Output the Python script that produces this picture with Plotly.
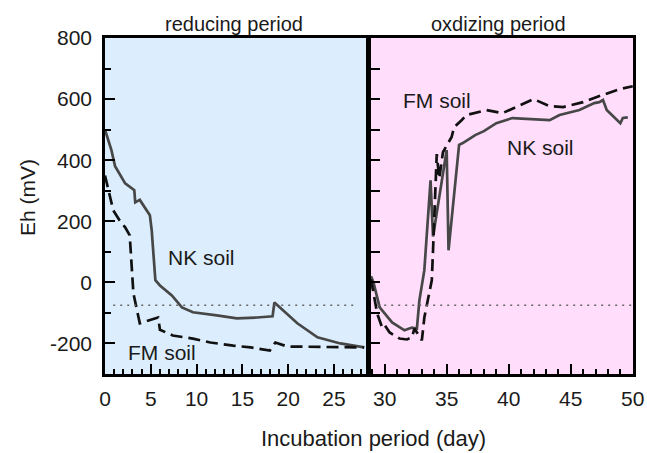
import plotly.graph_objects as go

# ---------------- data ----------------
nk_red_day = [0, 0.7, 1.1, 2.2, 3.2, 3.3, 3.8, 4.9, 5.1, 5.5, 6.0, 7.3, 8.4, 9.6,
              12.2, 14.4, 16.6, 18.3, 18.5, 21.0, 23.2, 25.7, 28.3]
nk_red_eh = [500, 433, 380, 324, 302, 262, 270, 220, 170, 7, -10, -43, -82, -98,
             -108, -118, -115, -111, -66, -134, -180, -200, -213]

fm_red_day = [0, 0.9, 1.6, 2.2, 2.7, 3.1, 3.8, 4.7, 5.8, 6.0, 7.4, 9.6, 11.5,
              14.0, 15.9, 18.0, 18.6, 19.9, 24.6, 28.3]
fm_red_eh = [350, 236, 203, 180, 154, -36, -134, -125, -115, -155, -174, -184, -197,
             -207, -213, -223, -197, -210, -213, -213]

nk_ox_day = [28.9, 29.1, 29.6, 30.6, 31.6, 32.2, 32.6, 32.8, 33.2, 33.7, 33.9,
             35.0, 35.15, 36.0, 36.3, 37.3, 38.0, 39.0, 40.3, 43.3, 44.1, 44.7,
             45.7, 46.9, 47.3, 47.6, 47.9, 49.0, 49.2, 49.6]
nk_ox_eh = [20, 0, -82, -131, -157, -148, -151, -59, 40, 334, 150,
            433, 105, 450, 456, 482, 495, 521, 538, 531, 548, 554,
            564, 587, 590, 597, 564, 521, 538, 540]

fm_ox_day = [28.9, 29.2, 29.4, 29.8, 30.0, 30.4, 31.2, 31.8, 32.2, 32.4, 33.0,
             33.2, 33.8, 33.9, 34.2, 34.4, 34.7, 35.4, 35.6, 36.2, 36.6, 38.2,
             39.5, 40.6, 42.0, 43.3, 44.4, 46.0, 47.1, 49.0, 50.0]
fm_ox_eh = [10, -60, -102, -148, -140, -164, -184, -187, -180, -151, -190,
            -115, 7, 105, 420, 340, 426, 476, 508, 531, 548, 564,
            554, 574, 600, 577, 574, 590, 607, 633, 642]

threshold = -75
y_ticks = [-200, 0, 200, 400, 600, 800]
y_ticktext = ["-200", "0", "200", "400", "600", "800"]
y_minor = [-300, -100, 100, 300, 500, 700]
x1_ticks = [0, 5, 10, 15, 20, 25]
x2_ticks = [30, 35, 40, 45, 50]

# ---------------- figure ----------------
FONT = "Liberation Sans, Arial, sans-serif"
TXT_COLOR = "#1a1a1a"
NK_COLOR = "#474747"
FM_COLOR = "#111111"
LW = 2.7
DASH = "12px,6px"

fig = go.Figure()

fig.add_trace(go.Scatter(x=nk_red_day, y=nk_red_eh, mode="lines", xaxis="x", yaxis="y",
                         line=dict(color=NK_COLOR, width=LW), showlegend=False))
fig.add_trace(go.Scatter(x=fm_red_day, y=fm_red_eh, mode="lines", xaxis="x", yaxis="y",
                         line=dict(color=FM_COLOR, width=LW, dash=DASH), showlegend=False))
fig.add_trace(go.Scatter(x=nk_ox_day, y=nk_ox_eh, mode="lines", xaxis="x2", yaxis="y2",
                         line=dict(color=NK_COLOR, width=LW), showlegend=False))
fig.add_trace(go.Scatter(x=fm_ox_day, y=fm_ox_eh, mode="lines", xaxis="x2", yaxis="y2",
                         line=dict(color=FM_COLOR, width=LW, dash=DASH), showlegend=False))

# dotted reference lines
fig.add_trace(go.Scatter(x=[0.9, 27.6], y=[threshold, threshold], mode="lines", xaxis="x", yaxis="y",
                         line=dict(color="#666666", width=1.6, dash="2px,5px"), showlegend=False))
fig.add_trace(go.Scatter(x=[29.4, 49.9], y=[threshold, threshold], mode="lines", xaxis="x2", yaxis="y2",
                         line=dict(color="#666666", width=1.6, dash="2px,5px"), showlegend=False))

W, H = 647, 453
xd1 = [105 / W, 366 / W]
xd2 = [371 / W, 633 / W]
yd = [(H - 374) / H, (H - 38) / H]

axis_common = dict(showline=True, linecolor="black", linewidth=2.5, mirror=True,
                   showgrid=False, zeroline=False, ticks="inside", tickcolor="black",
                   automargin=False,
                   tickwidth=2, tickfont=dict(family=FONT, size=21, color=TXT_COLOR))

fig.update_layout(
    width=W, height=H, autosize=False,
    margin=dict(l=0, r=0, t=0, b=0, pad=0, autoexpand=False),
    paper_bgcolor="white", plot_bgcolor="rgba(0,0,0,0)",
    font=dict(family=FONT, color=TXT_COLOR),
    xaxis=dict(domain=xd1, range=[0, 28.5], anchor="y", tickmode="array", tickvals=x1_ticks,
               ticklen=10, ticklabelstandoff=4,
               minor=dict(dtick=1, tick0=0, ticklen=5, ticks="inside", tickcolor="black", tickwidth=2),
               **axis_common),
    xaxis2=dict(domain=xd2, range=[28.9, 50.02], anchor="y2", tickmode="array", tickvals=x2_ticks,
                ticklen=10, ticklabelstandoff=4,
                minor=dict(dtick=1, tick0=0, ticklen=5, ticks="inside", tickcolor="black", tickwidth=2),
                **axis_common),
    yaxis=dict(domain=yd, range=[-300, 800], anchor="x", tickmode="array", tickvals=y_ticks,
               ticktext=y_ticktext, ticklen=10, ticklabelstandoff=6,
               minor=dict(tickmode="array", tickvals=y_minor, ticklen=6, ticks="inside",
                          tickcolor="black", tickwidth=2),
               **axis_common),
    yaxis2=dict(domain=yd, range=[-300, 800], anchor="x2", matches="y", tickmode="array",
                tickvals=y_ticks, showticklabels=False, ticklen=9,
                minor=dict(tickmode="array", tickvals=y_minor, ticklen=9, ticks="inside",
                           tickcolor="black", tickwidth=2),
                **axis_common),
)

# panel backgrounds
fig.add_shape(type="rect", xref="x domain", yref="y domain", x0=0, x1=1, y0=0, y1=1,
              fillcolor="#DCEEFD", line=dict(width=0), layer="below")
fig.add_shape(type="rect", xref="x2 domain", yref="y2 domain", x0=0, x1=1, y0=0, y1=1,
              fillcolor="#FFDDFB", line=dict(width=0), layer="below")

txt = dict(family=FONT, size=21, color=TXT_COLOR)
C = dict(xanchor="center", yanchor="middle", showarrow=False)
ann = [
    dict(text="reducing period", x=234 / W, y=(H - 24) / H, xref="paper", yref="paper",
         font=dict(family=FONT, size=20, color=TXT_COLOR), **C),
    dict(text="oxdizing period", x=498 / W, y=(H - 24) / H, xref="paper", yref="paper",
         font=dict(family=FONT, size=20, color=TXT_COLOR), **C),
    dict(text="Incubation period (day)", x=374 / W, y=(H - 438) / H, xref="paper", yref="paper",
         font=dict(family=FONT, size=22, color=TXT_COLOR), **C),
    dict(text="Eh (mV)", x=27 / W, y=(H - 198) / H, xref="paper", yref="paper", textangle=-90,
         font=dict(family=FONT, size=21, color=TXT_COLOR), **C),
    dict(text="NK soil", x=10.5, y=82, xref="x", yref="y", font=txt, **C),
    dict(text="FM soil", x=6.2, y=-230, xref="x", yref="y", font=txt, **C),
    dict(text="FM soil", x=34.2, y=597, xref="x2", yref="y2", font=txt, **C),
    dict(text="NK soil", x=42.6, y=443, xref="x2", yref="y2", font=txt, **C),
]
fig.update_layout(annotations=ann)

fig.write_html("out.html")
